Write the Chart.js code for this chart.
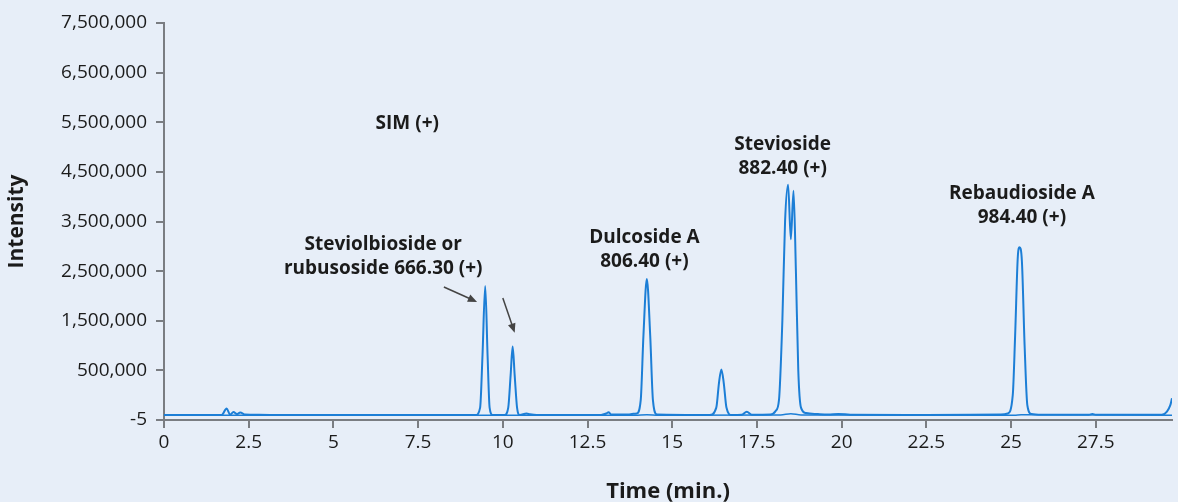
<!DOCTYPE html>
<html>
<head>
<meta charset="utf-8">
<script src="https://cdn.jsdelivr.net/npm/chart.js@4/dist/chart.umd.min.js"></script>
<style>
  html, body { margin: 0; padding: 0; background: #e7eef8; }
  #wrap { width: 1178px; height: 502px; position: relative; }
</style>
</head>
<body>
<div id="wrap"><canvas id="c"></canvas></div>
<script>
// SIM (+) trace, time in minutes, intensity
const times = [
  0, 1.7, 1.85, 1.95, 2.05, 2.15, 2.25, 2.4, 2.8, 3.5, 5, 7.5,
  9.2, 9.33, 9.4, 9.48, 9.55, 9.61, 9.7,
  10.05, 10.16, 10.23, 10.29, 10.35, 10.42, 10.5, 10.7, 10.8, 11.0,
  12.9, 13.05, 13.12, 13.2, 13.7, 13.85,
  13.95, 14.07, 14.15, 14.25, 14.35, 14.43, 14.55,
  16.1, 16.3, 16.38, 16.45, 16.52, 16.6, 16.75,
  17.05, 17.2, 17.35,
  17.9, 18.05, 18.15, 18.25, 18.33, 18.42, 18.5, 18.58, 18.65, 18.72, 18.8, 18.95,
  19.3, 19.6, 19.9, 20.1, 20.3, 22.5,
  24.7, 24.9, 25.05, 25.12, 25.2, 25.25, 25.32, 25.4, 25.48, 25.6, 25.9,
  27.3, 27.4, 27.5, 29.45, 29.6, 29.7, 29.75
];
const intensity = [
  -400000, -400000, -270000, -390000, -340000, -380000, -350000, -390000, -395000, -400000, -400000, -400000,
  -400000, -250000, 800000, 2200000, 800000, -250000, -400000,
  -400000, -250000, 400000, 980000, 400000, -250000, -400000, -370000, -385000, -400000,
  -400000, -370000, -345000, -390000, -390000, -375000,
  -370000, -100000, 1200000, 2340000, 1200000, -100000, -390000,
  -400000, -250000, 250000, 520000, 250000, -250000, -400000,
  -395000, -335000, -395000,
  -390000, -320000, -100000, 1500000, 3500000, 4240000, 3140000, 4120000, 2500000, 500000, -250000, -360000,
  -380000, -390000, -380000, -385000, -395000, -400000,
  -390000, -370000, 0, 1200000, 2800000, 2980000, 2700000, 1000000, -200000, -380000, -395000,
  -395000, -378000, -395000, -395000, -330000, -200000, -60000
];

// second SIM channel running along the baseline
const baseTimes = [0, 9, 13.9, 14.25, 14.6, 18.2, 18.5, 18.8, 25.1, 25.3, 29.75];
const baseIntensity = [-405000, -405000, -405000, -392000, -405000, -400000, -372000, -400000, -405000, -395000, -405000];

const yTicks = [-500000, 500000, 1500000, 2500000, 3500000, 4500000, 5500000, 6500000, 7500000];

const labels = [
  { x: 7.18, y: 5480000, lines: ['SIM (+)'] },
  { x: 6.47, y: 3040000, lines: ['Steviolbioside or', 'rubusoside 666.30 (+)'] },
  { x: 14.18, y: 3180000, lines: ['Dulcoside A', '806.40 (+)'] },
  { x: 18.26, y: 5040000, lines: ['Stevioside', '882.40 (+)'] },
  { x: 25.32, y: 4060000, lines: ['Rebaudioside A', '984.40 (+)'] }
];
const arrows = [
  { x1: 8.26, y1: 2180000, x2: 9.24, y2: 1880000 },
  { x1: 10.0, y1: 1960000, x2: 10.35, y2: 1260000 }
];

const FONT = '"Open Sans", Lato, sans-serif';
const AXIS = '#7a7d82';

const annotate = {
  id: 'annotate',
  afterDatasetsDraw(chart) {
    const { ctx, scales: { x, y } } = chart;
    ctx.save();
    ctx.fillStyle = '#1b1b1b';
    ctx.font = 'bold 19px ' + FONT;
    ctx.textAlign = 'center';
    ctx.textBaseline = 'middle';
    labels.forEach(l => {
      const px = x.getPixelForValue(l.x);
      const py = y.getPixelForValue(l.y);
      l.lines.forEach((t, i) => ctx.fillText(t, px, py + i * 24));
    });
    ctx.strokeStyle = '#444';
    ctx.fillStyle = '#444';
    ctx.lineWidth = 1.5;
    arrows.forEach(a => {
      const x1 = x.getPixelForValue(a.x1), y1 = y.getPixelForValue(a.y1);
      const x2 = x.getPixelForValue(a.x2), y2 = y.getPixelForValue(a.y2);
      const ang = Math.atan2(y2 - y1, x2 - x1);
      ctx.beginPath();
      ctx.moveTo(x1, y1);
      ctx.lineTo(x2 - 7 * Math.cos(ang), y2 - 7 * Math.sin(ang));
      ctx.stroke();
      ctx.beginPath();
      ctx.moveTo(x2, y2);
      ctx.lineTo(x2 - 10 * Math.cos(ang - 0.4), y2 - 10 * Math.sin(ang - 0.4));
      ctx.lineTo(x2 - 10 * Math.cos(ang + 0.4), y2 - 10 * Math.sin(ang + 0.4));
      ctx.closePath();
      ctx.fill();
    });
    ctx.restore();
  }
};

new Chart(document.getElementById('c'), {
  type: 'line',
  data: {
    datasets: [
      {
        label: 'baseline',
        data: baseTimes.map((t, i) => ({ x: t, y: baseIntensity[i] })),
        borderColor: '#1c7ed6',
        borderWidth: 1.5,
        cubicInterpolationMode: 'monotone'
      },
      {
        label: 'SIM (+)',
        data: times.map((t, i) => ({ x: t, y: intensity[i] })),
        borderColor: '#1c7ed6',
        borderWidth: 2,
        cubicInterpolationMode: 'monotone'
      }
    ]
  },
  options: {
    responsive: true,
    maintainAspectRatio: false,
    animation: false,
    pointStyle: false,
    layout: { padding: { top: 23, right: 0, left: 0, bottom: 0 } },
    plugins: { legend: { display: false }, tooltip: { enabled: false } },
    scales: {
      x: {
        type: 'linear',
        min: 0,
        max: 29.75,
        afterFit: s => { s.height = 82; },
        border: { color: AXIS, width: 2 },
        grid: { drawOnChartArea: false, drawTicks: true, tickLength: 8, color: AXIS, lineWidth: 2 },
        ticks: {
          stepSize: 2.5,
          includeBounds: false,
          padding: 3,
          color: '#1b1b1b',
          font: { family: FONT, size: 19 },
          maxRotation: 0
        },
        title: {
          display: true,
          text: 'Time (min.)',
          color: '#1b1b1b',
          font: { family: FONT, size: 22, weight: 'bold' },
          padding: { top: 0, bottom: -3 }
        }
      },
      y: {
        min: -500000,
        max: 7500000,
        afterFit: s => { s.width = 164; },
        afterBuildTicks: s => { s.ticks = yTicks.map(v => ({ value: v })); },
        border: { color: AXIS, width: 2 },
        grid: { drawOnChartArea: false, drawTicks: true, tickLength: 8, color: AXIS, lineWidth: 2 },
        ticks: {
          padding: 9,
          color: '#1b1b1b',
          font: { family: FONT, size: 19 },
          callback: v => v === -500000 ? '-5' : v.toLocaleString('en-US')
        },
        title: {
          display: true,
          text: 'Intensity',
          color: '#1b1b1b',
          font: { family: FONT, size: 21, weight: 'bold' },
          padding: { top: 4, bottom: 0 }
        }
      }
    }
  },
  plugins: [annotate]
});
</script>
</body>
</html>
